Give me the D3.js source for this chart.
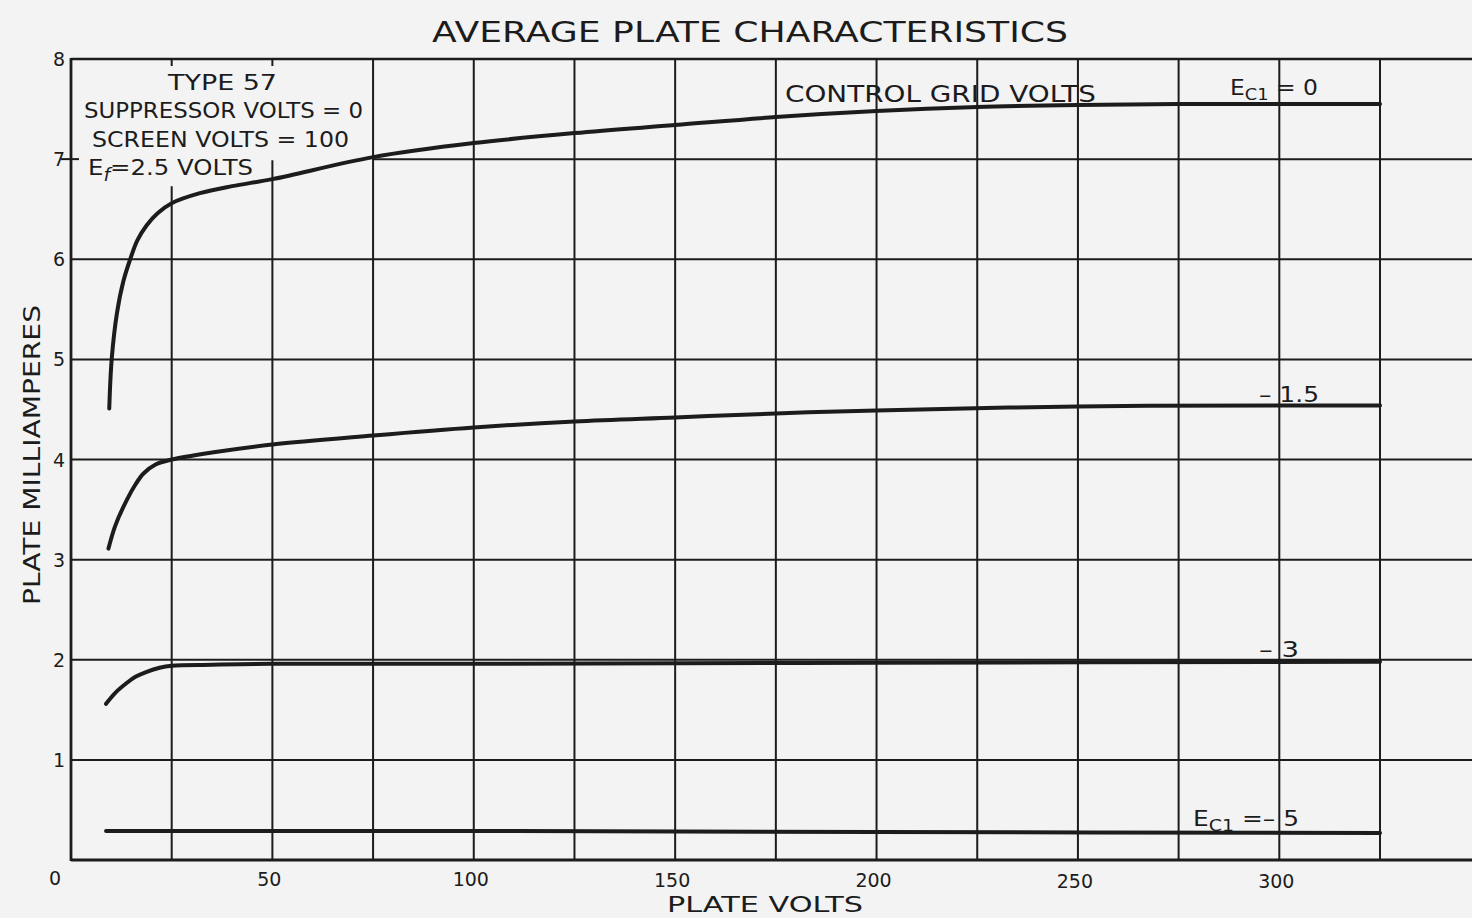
<!DOCTYPE html>
<html>
<head>
<meta charset="utf-8">
<title>Average Plate Characteristics - Type 57</title>
<script src="https://cdn.jsdelivr.net/npm/d3@7"></script>
<style>
    html, body { margin: 0; padding: 0; background: #f3f3f3; }
    svg { display: block; }
    text { font-family: "DejaVu Sans", sans-serif; fill: #1c1c1c; }
</style>
</head>
<body>
<div id="chart"></div>
<script>
// [plate volts, plate milliamperes] for each control grid voltage
const curveEc0 = [[9.5, 4.51], [10.1, 5.0], [11.4, 5.46], [13, 5.78], [14.7, 6.0], [16.5, 6.19],
    [18.8, 6.34], [21.5, 6.46], [25, 6.56], [32, 6.66], [40, 6.73], [50, 6.8], [75, 7.02],
    [100, 7.16], [125, 7.26], [150, 7.34], [175, 7.42], [200, 7.48], [225, 7.52], [250, 7.54],
    [275, 7.55], [300, 7.55], [325, 7.55]];
const curveEc15 = [[9.3, 3.11], [11, 3.34], [13.9, 3.6], [16, 3.75], [18, 3.86], [21, 3.95],
    [25, 4.0], [35, 4.07], [50, 4.15], [75, 4.24], [100, 4.32], [125, 4.38], [150, 4.42],
    [175, 4.46], [200, 4.49], [250, 4.53], [300, 4.54], [325, 4.54]];
const curveEc3 = [[8.7, 1.56], [11, 1.67], [13.9, 1.77], [16, 1.83], [18.8, 1.88], [22, 1.92],
    [25, 1.94], [35, 1.95], [50, 1.96], [100, 1.96], [200, 1.97], [325, 1.98]];
const curveEc5 = [[8.7, 0.29], [100, 0.29], [200, 0.28], [325, 0.27]];

const xTickValues = [0, 50, 100, 150, 200, 250, 300];
const xGridValues = [25, 50, 75, 100, 125, 150, 175, 200, 225, 250, 275, 300, 325];
const yTickValues = [1, 2, 3, 4, 5, 6, 7, 8];

const titleText = 'AVERAGE PLATE CHARACTERISTICS';
const xLabelText = 'PLATE VOLTS';
const yLabelText = 'PLATE MILLIAMPERES';
const noteLines = ['TYPE 57', 'SUPPRESSOR VOLTS = 0', 'SCREEN VOLTS = 100'];

const width = 1472;
const height = 918;
const ink = '#1c1c1c';

const svg = d3.select('#chart')
    .append('svg')
    .attr('width', width)
    .attr('height', height);

svg.append('rect')
    .attr('width', width)
    .attr('height', height)
    .attr('fill', '#f3f3f3');

const x = d3.scaleLinear().domain([0, 325]).range([71, 1380]);
const y = d3.scaleLinear().domain([0, 8]).range([860, 59]);

// Grid ------------------------------------------------------------
const grid = svg.append('g')
    .attr('stroke', ink)
    .attr('fill', 'none');

// horizontal lines run on past the last volt line to the page edge
grid.selectAll('.hline')
    .data(yTickValues)
    .enter()
    .append('line')
    .attr('class', 'hline')
    .attr('x1', d => d === 7 ? x(75) : x(0))
    .attr('x2', width)
    .attr('y1', d => y(d))
    .attr('y2', d => y(d))
    .attr('stroke-width', d => d === 8 ? 2.6 : 2);

// little tick left where the 7 line is hidden behind the note box
grid.append('line')
    .attr('x1', x(0) - 10).attr('x2', x(0) + 8)
    .attr('y1', y(7)).attr('y2', y(7))
    .attr('stroke-width', 2);

// vertical lines; the first two are hidden behind the note box
const gridTop = v => v === 25 ? y(6.73) : v === 50 ? y(6.99) : y(8);
grid.selectAll('.vline')
    .data(xGridValues)
    .enter()
    .append('line')
    .attr('class', 'vline')
    .attr('x1', d => x(d))
    .attr('x2', d => x(d))
    .attr('y1', d => gridTop(d))
    .attr('y2', y(0))
    .attr('stroke-width', 2);

grid.selectAll('.topTick')
    .data([25, 50])
    .enter()
    .append('line')
    .attr('x1', d => x(d)).attr('x2', d => x(d))
    .attr('y1', y(8)).attr('y2', y(8) + 7)
    .attr('stroke-width', 2);

// frame: left and bottom borders
grid.append('line')
    .attr('x1', x(0)).attr('x2', x(0))
    .attr('y1', y(8) - 1).attr('y2', y(0) + 1)
    .attr('stroke-width', 2.8);
grid.append('line')
    .attr('x1', x(0)).attr('x2', width)
    .attr('y1', y(0)).attr('y2', y(0))
    .attr('stroke-width', 2.8);

// Curves ----------------------------------------------------------
const line = d3.line()
    .x(d => x(d[0]))
    .y(d => y(d[1]))
    .curve(d3.curveCatmullRom.alpha(0.5));

svg.append('g')
    .selectAll('path')
    .data([curveEc0, curveEc15, curveEc3, curveEc5])
    .enter()
    .append('path')
    .attr('d', line)
    .attr('fill', 'none')
    .attr('stroke', ink)
    .attr('stroke-width', 4)
    .attr('stroke-linecap', 'round')
    .attr('stroke-linejoin', 'round');

// Tick labels -----------------------------------------------------
svg.append('g')
    .selectAll('text')
    .data(yTickValues)
    .enter()
    .append('text')
    .attr('x', 59)
    .attr('y', d => y(d) + 7)
    .attr('text-anchor', 'middle')
    .style('font-size', '19px')
    .text(d => d);

svg.append('g')
    .selectAll('text')
    .data(xTickValues)
    .enter()
    .append('text')
    .attr('x', d => d === 0 ? 55 : x(d) - 3)
    .attr('y', d => 885 + d / 100)
    .attr('text-anchor', 'middle')
    .style('font-size', '19px')
    .text(d => d);

// Titles ----------------------------------------------------------
svg.append('text')
    .attr('x', 432)
    .attr('y', 42)
    .attr('textLength', 636)
    .attr('lengthAdjust', 'spacingAndGlyphs')
    .style('font-size', '28px')
    .text(titleText);

svg.append('text')
    .attr('x', 667)
    .attr('y', 912)
    .attr('textLength', 196)
    .attr('lengthAdjust', 'spacingAndGlyphs')
    .style('font-size', '22px')
    .text(xLabelText);

svg.append('text')
    .attr('transform', 'translate(40, 605) rotate(-90)')
    .attr('textLength', 300)
    .attr('lengthAdjust', 'spacingAndGlyphs')
    .style('font-size', '23px')
    .text(yLabelText);

// Note box --------------------------------------------------------
const noteSpans = [[168, 90, 109], [84, 118, 279], [92, 147, 257]];
svg.append('g')
    .selectAll('text')
    .data(noteLines)
    .enter()
    .append('text')
    .attr('x', (d, i) => noteSpans[i][0])
    .attr('y', (d, i) => noteSpans[i][1])
    .attr('textLength', (d, i) => noteSpans[i][2])
    .attr('lengthAdjust', 'spacingAndGlyphs')
    .style('font-size', '22px')
    .text(d => d);

const ef = svg.append('text')
    .attr('x', 88)
    .attr('y', 175)
    .attr('textLength', 165)
    .attr('lengthAdjust', 'spacingAndGlyphs')
    .style('font-size', '22px');
ef.append('tspan').text('E');
ef.append('tspan').attr('dy', 6).style('font-size', '17px').style('font-style', 'italic').text('f');
ef.append('tspan').attr('dy', -6).text('=2.5 VOLTS');

svg.append('text')
    .attr('x', 785)
    .attr('y', 102)
    .attr('textLength', 311)
    .attr('lengthAdjust', 'spacingAndGlyphs')
    .style('font-size', '23px')
    .text('CONTROL GRID VOLTS');

// Curve labels ----------------------------------------------------
function gridLabel(px, py, len, value) {
    const t = svg.append('text')
        .attr('x', px)
        .attr('y', py)
        .attr('textLength', len)
        .attr('lengthAdjust', 'spacingAndGlyphs')
        .style('font-size', '21px');
    t.append('tspan').text('E');
    t.append('tspan').attr('dy', 5).style('font-size', '16px').text('C1');
    t.append('tspan').attr('dy', -5).text(value);
}

gridLabel(1230, 95, 88, ' = 0');
gridLabel(1193, 826, 106, ' =\u2013 5');

svg.append('text')
    .attr('x', 1259)
    .attr('y', 402)
    .attr('textLength', 60)
    .attr('lengthAdjust', 'spacingAndGlyphs')
    .style('font-size', '21px')
    .text('\u2013 1.5');

svg.append('text')
    .attr('x', 1259)
    .attr('y', 657)
    .attr('textLength', 40)
    .attr('lengthAdjust', 'spacingAndGlyphs')
    .style('font-size', '21px')
    .text('\u2013 3');
</script>
</body>
</html>
